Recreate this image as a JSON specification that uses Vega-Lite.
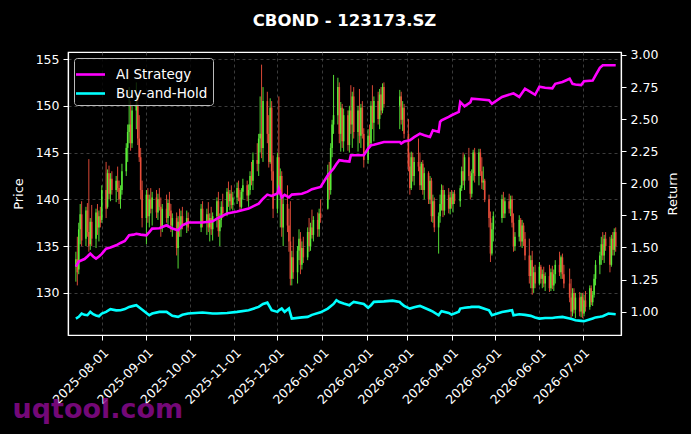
{
  "$schema": "https://vega.github.io/schema/vega-lite/v6.json",
  "autosize": {"type": "none"},
  "padding": {"left": 68, "top": 52, "right": 70, "bottom": 99},
  "width": 553,
  "height": 283,
  "background": "black",
  "title": {
    "text": "CBOND - 123173.SZ",
    "color": "white",
    "font": "DejaVu Sans",
    "fontSize": 16.5,
    "fontWeight": "bold",
    "anchor": "middle",
    "frame": "group",
    "offset": 19
  },
  "config": {
    "font": "DejaVu Sans",
    "view": {"stroke": "white", "strokeWidth": 1.2},
    "axis": {
      "domainColor": "white",
      "domainWidth": 1.2,
      "tickColor": "white",
      "tickSize": 5,
      "labelColor": "white",
      "labelFontSize": 12.5,
      "labelPadding": 4,
      "titleColor": "white",
      "titleFontSize": 13,
      "titleFontWeight": "normal",
      "gridColor": "#555555",
      "gridDash": [3, 3],
      "gridWidth": 0.7
    }
  },
  "datasets": {
    "px": [
      {"d": "2025-07-14", "o": 132.8, "h": 134.4, "l": 131.2, "c": 133.6},
      {"d": "2025-07-15", "o": 133.6, "h": 136.0, "l": 130.8, "c": 132.2},
      {"d": "2025-07-16", "o": 132.5, "h": 137.5, "l": 132.0, "c": 136.8},
      {"d": "2025-07-17", "o": 136.8, "h": 139.5, "l": 135.2, "c": 138.4},
      {"d": "2025-07-18", "o": 138.4, "h": 139.8, "l": 135.0, "c": 135.6},
      {"d": "2025-07-21", "o": 135.8, "h": 139.2, "l": 135.0, "c": 138.8},
      {"d": "2025-07-22", "o": 138.8, "h": 139.6, "l": 136.0, "c": 136.5},
      {"d": "2025-07-23", "o": 136.5, "h": 144.3, "l": 134.4, "c": 135.0},
      {"d": "2025-07-24", "o": 135.2, "h": 138.0, "l": 134.6, "c": 137.6},
      {"d": "2025-07-25", "o": 137.6, "h": 139.4, "l": 135.0, "c": 135.8},
      {"d": "2025-07-28", "o": 135.8, "h": 139.0, "l": 134.8, "c": 138.6},
      {"d": "2025-07-29", "o": 138.6, "h": 139.5, "l": 136.2, "c": 137.0},
      {"d": "2025-07-30", "o": 137.0, "h": 138.8, "l": 135.5, "c": 138.2},
      {"d": "2025-07-31", "o": 138.2, "h": 139.2, "l": 137.0, "c": 137.5},
      {"d": "2025-08-01", "o": 137.8, "h": 141.5, "l": 137.5, "c": 141.0},
      {"d": "2025-08-04", "o": 141.0, "h": 144.0, "l": 138.0, "c": 139.0},
      {"d": "2025-08-05", "o": 139.2, "h": 143.2, "l": 139.0, "c": 142.8},
      {"d": "2025-08-06", "o": 142.8, "h": 143.6, "l": 140.0, "c": 140.6},
      {"d": "2025-08-07", "o": 140.6, "h": 142.8, "l": 139.8, "c": 142.2},
      {"d": "2025-08-08", "o": 142.2, "h": 143.0, "l": 140.5, "c": 141.0},
      {"d": "2025-08-11", "o": 141.0, "h": 142.5, "l": 139.7, "c": 142.0},
      {"d": "2025-08-12", "o": 142.0, "h": 143.5, "l": 140.8, "c": 141.2},
      {"d": "2025-08-13", "o": 141.2, "h": 142.0, "l": 139.5, "c": 140.0},
      {"d": "2025-08-14", "o": 140.0, "h": 141.5, "l": 139.0, "c": 141.0},
      {"d": "2025-08-15", "o": 141.0, "h": 143.8, "l": 140.5, "c": 143.0},
      {"d": "2025-08-18", "o": 143.0, "h": 146.0, "l": 142.5, "c": 145.5},
      {"d": "2025-08-19", "o": 145.5, "h": 148.0, "l": 144.0, "c": 147.2},
      {"d": "2025-08-20", "o": 147.2, "h": 152.0, "l": 146.0, "c": 148.0},
      {"d": "2025-08-21", "o": 148.0, "h": 150.5, "l": 145.2, "c": 146.0},
      {"d": "2025-08-22", "o": 146.0, "h": 150.0, "l": 145.5, "c": 149.5},
      {"d": "2025-08-25", "o": 149.5, "h": 152.5, "l": 147.5, "c": 150.2},
      {"d": "2025-08-26", "o": 150.2, "h": 151.0, "l": 145.8, "c": 146.5},
      {"d": "2025-08-27", "o": 146.5, "h": 149.0, "l": 144.0, "c": 144.5},
      {"d": "2025-08-28", "o": 144.5, "h": 145.5, "l": 140.0, "c": 141.0},
      {"d": "2025-08-29", "o": 141.0, "h": 142.0, "l": 137.0, "c": 138.0},
      {"d": "2025-09-01", "o": 138.0, "h": 141.0, "l": 135.2, "c": 140.5},
      {"d": "2025-09-02", "o": 140.5, "h": 141.2, "l": 137.5, "c": 138.2},
      {"d": "2025-09-03", "o": 138.2, "h": 140.5, "l": 137.0, "c": 140.0},
      {"d": "2025-09-04", "o": 140.0, "h": 141.2, "l": 138.5, "c": 139.0},
      {"d": "2025-09-05", "o": 139.0, "h": 140.8, "l": 137.2, "c": 140.2},
      {"d": "2025-09-08", "o": 140.2, "h": 141.0, "l": 138.0, "c": 138.6},
      {"d": "2025-09-09", "o": 138.6, "h": 140.6, "l": 137.8, "c": 140.0},
      {"d": "2025-09-10", "o": 140.0, "h": 141.2, "l": 138.8, "c": 139.2},
      {"d": "2025-09-11", "o": 139.2, "h": 140.2, "l": 136.0, "c": 137.0},
      {"d": "2025-09-12", "o": 137.0, "h": 139.5, "l": 136.5, "c": 139.0},
      {"d": "2025-09-15", "o": 139.0, "h": 140.5, "l": 137.5, "c": 138.0},
      {"d": "2025-09-16", "o": 138.0, "h": 140.0, "l": 137.0, "c": 139.6},
      {"d": "2025-09-17", "o": 139.6, "h": 140.8, "l": 138.2, "c": 138.8},
      {"d": "2025-09-18", "o": 138.8, "h": 139.5, "l": 136.5, "c": 137.2},
      {"d": "2025-09-19", "o": 137.2, "h": 138.5, "l": 136.0, "c": 138.0},
      {"d": "2025-09-22", "o": 138.0, "h": 138.6, "l": 134.0, "c": 134.8},
      {"d": "2025-09-23", "o": 134.8, "h": 138.2, "l": 132.6, "c": 137.6},
      {"d": "2025-09-24", "o": 137.6, "h": 139.0, "l": 136.0, "c": 136.8},
      {"d": "2025-09-25", "o": 136.8, "h": 138.8, "l": 136.0, "c": 138.2},
      {"d": "2025-09-26", "o": 138.2, "h": 139.2, "l": 136.8, "c": 137.2},
      {"d": "2025-09-29", "o": 137.2, "h": 138.8, "l": 136.4, "c": 138.0},
      {"d": "2025-09-30", "o": 138.0, "h": 138.6, "l": 136.6, "c": 137.0},
      {"d": "2025-10-09", "o": 137.0, "h": 139.5, "l": 136.5, "c": 139.0},
      {"d": "2025-10-10", "o": 139.0, "h": 139.8, "l": 137.0, "c": 137.6},
      {"d": "2025-10-13", "o": 137.6, "h": 139.0, "l": 136.2, "c": 138.4},
      {"d": "2025-10-14", "o": 138.4, "h": 139.7, "l": 136.5, "c": 137.0},
      {"d": "2025-10-15", "o": 137.0, "h": 138.5, "l": 135.5, "c": 138.0},
      {"d": "2025-10-16", "o": 138.0, "h": 139.2, "l": 136.2, "c": 136.8},
      {"d": "2025-10-17", "o": 136.8, "h": 138.6, "l": 135.6, "c": 138.2},
      {"d": "2025-10-20", "o": 138.2, "h": 140.2, "l": 137.0, "c": 139.8},
      {"d": "2025-10-21", "o": 139.8, "h": 140.8, "l": 136.0, "c": 136.6},
      {"d": "2025-10-22", "o": 136.6, "h": 138.5, "l": 135.0, "c": 137.8},
      {"d": "2025-10-23", "o": 137.8, "h": 139.8, "l": 137.0, "c": 139.2},
      {"d": "2025-10-24", "o": 139.2, "h": 140.6, "l": 138.0, "c": 138.5},
      {"d": "2025-10-27", "o": 138.5, "h": 141.2, "l": 138.2, "c": 140.8},
      {"d": "2025-10-28", "o": 140.8, "h": 141.9, "l": 139.2, "c": 139.8},
      {"d": "2025-10-29", "o": 139.8, "h": 141.0, "l": 138.8, "c": 140.6},
      {"d": "2025-10-30", "o": 140.6, "h": 141.5, "l": 139.0, "c": 139.4},
      {"d": "2025-10-31", "o": 139.4, "h": 140.8, "l": 138.8, "c": 140.2},
      {"d": "2025-11-03", "o": 140.2, "h": 141.8, "l": 139.5, "c": 141.2},
      {"d": "2025-11-04", "o": 141.2, "h": 142.0, "l": 139.8, "c": 140.2},
      {"d": "2025-11-05", "o": 140.2, "h": 141.0, "l": 138.8, "c": 139.2},
      {"d": "2025-11-06", "o": 139.2, "h": 141.2, "l": 139.0, "c": 140.8},
      {"d": "2025-11-07", "o": 140.8, "h": 142.2, "l": 140.0, "c": 141.5},
      {"d": "2025-11-10", "o": 141.5, "h": 142.0, "l": 139.8, "c": 140.4},
      {"d": "2025-11-11", "o": 140.4, "h": 141.6, "l": 139.2, "c": 141.0},
      {"d": "2025-11-12", "o": 141.0, "h": 143.0, "l": 140.5, "c": 142.5},
      {"d": "2025-11-13", "o": 142.5, "h": 144.0, "l": 141.5, "c": 142.0},
      {"d": "2025-11-14", "o": 142.0, "h": 145.0, "l": 141.0, "c": 144.2},
      {"d": "2025-11-17", "o": 144.2, "h": 146.0, "l": 143.0, "c": 143.8},
      {"d": "2025-11-18", "o": 143.8, "h": 147.0, "l": 142.5, "c": 146.5},
      {"d": "2025-11-19", "o": 146.5, "h": 151.0, "l": 145.0, "c": 147.0},
      {"d": "2025-11-20", "o": 147.0, "h": 154.4, "l": 144.4, "c": 145.5},
      {"d": "2025-11-21", "o": 145.5, "h": 152.0, "l": 144.0, "c": 150.5},
      {"d": "2025-11-24", "o": 150.5, "h": 151.5, "l": 146.0, "c": 147.0},
      {"d": "2025-11-25", "o": 147.0, "h": 149.0, "l": 143.4, "c": 144.0},
      {"d": "2025-11-26", "o": 144.0, "h": 150.8, "l": 143.8, "c": 149.8},
      {"d": "2025-11-27", "o": 149.8, "h": 150.5, "l": 142.0, "c": 143.0},
      {"d": "2025-11-28", "o": 143.0, "h": 144.7, "l": 138.0, "c": 139.0},
      {"d": "2025-12-01", "o": 139.0, "h": 145.0, "l": 138.5, "c": 144.5},
      {"d": "2025-12-02", "o": 144.5, "h": 151.0, "l": 140.5, "c": 141.0},
      {"d": "2025-12-03", "o": 141.0, "h": 143.3, "l": 137.0, "c": 142.5},
      {"d": "2025-12-04", "o": 142.5, "h": 143.0, "l": 136.0, "c": 137.0},
      {"d": "2025-12-05", "o": 137.0, "h": 140.5, "l": 135.0, "c": 139.5},
      {"d": "2025-12-08", "o": 139.5, "h": 141.5, "l": 136.5, "c": 137.2},
      {"d": "2025-12-09", "o": 137.2, "h": 139.0, "l": 134.4, "c": 135.5},
      {"d": "2025-12-10", "o": 135.5, "h": 139.8, "l": 130.8, "c": 131.5},
      {"d": "2025-12-11", "o": 131.5, "h": 134.5, "l": 130.8, "c": 133.8},
      {"d": "2025-12-12", "o": 133.8, "h": 136.0, "l": 131.5, "c": 132.2},
      {"d": "2025-12-15", "o": 132.2, "h": 135.0, "l": 131.0, "c": 134.5},
      {"d": "2025-12-16", "o": 134.5, "h": 136.8, "l": 133.5, "c": 135.8},
      {"d": "2025-12-17", "o": 135.8, "h": 136.5, "l": 132.0, "c": 133.0},
      {"d": "2025-12-18", "o": 133.0, "h": 135.5, "l": 132.5, "c": 134.8},
      {"d": "2025-12-19", "o": 134.8, "h": 136.0, "l": 133.2, "c": 133.8},
      {"d": "2025-12-22", "o": 133.8, "h": 137.0, "l": 133.5, "c": 136.5},
      {"d": "2025-12-23", "o": 136.5, "h": 138.0, "l": 134.4, "c": 135.0},
      {"d": "2025-12-24", "o": 135.0, "h": 137.5, "l": 134.5, "c": 137.0},
      {"d": "2025-12-25", "o": 137.0, "h": 138.9, "l": 135.8, "c": 136.2},
      {"d": "2025-12-26", "o": 136.2, "h": 138.2, "l": 135.5, "c": 137.8},
      {"d": "2025-12-29", "o": 137.8, "h": 138.6, "l": 136.0, "c": 136.8},
      {"d": "2025-12-30", "o": 136.8, "h": 139.0, "l": 136.0, "c": 138.5},
      {"d": "2025-12-31", "o": 138.5, "h": 140.0, "l": 137.5, "c": 138.0},
      {"d": "2026-01-05", "o": 139.0, "h": 143.7, "l": 138.9, "c": 142.8},
      {"d": "2026-01-06", "o": 142.8, "h": 144.0, "l": 140.0, "c": 141.0},
      {"d": "2026-01-07", "o": 141.0, "h": 146.0, "l": 140.5, "c": 145.5},
      {"d": "2026-01-08", "o": 145.5, "h": 148.5, "l": 144.5, "c": 148.0},
      {"d": "2026-01-09", "o": 148.0, "h": 153.3, "l": 147.0, "c": 149.0},
      {"d": "2026-01-12", "o": 149.0, "h": 153.0, "l": 148.0, "c": 152.0},
      {"d": "2026-01-13", "o": 152.0, "h": 152.5, "l": 146.0, "c": 147.0},
      {"d": "2026-01-14", "o": 147.0, "h": 150.4, "l": 145.1, "c": 149.8},
      {"d": "2026-01-15", "o": 149.8, "h": 150.2, "l": 145.5, "c": 146.2},
      {"d": "2026-01-16", "o": 146.2, "h": 149.7, "l": 145.1, "c": 149.0},
      {"d": "2026-01-19", "o": 149.0, "h": 149.5, "l": 145.2, "c": 145.8},
      {"d": "2026-01-20", "o": 145.8, "h": 150.0, "l": 145.0, "c": 149.5},
      {"d": "2026-01-21", "o": 149.5, "h": 152.2, "l": 147.0, "c": 148.0},
      {"d": "2026-01-22", "o": 148.0, "h": 151.5, "l": 145.5, "c": 151.0},
      {"d": "2026-01-23", "o": 151.0, "h": 152.0, "l": 146.5, "c": 147.2},
      {"d": "2026-01-26", "o": 147.2, "h": 150.0, "l": 145.1, "c": 149.5},
      {"d": "2026-01-27", "o": 149.5, "h": 151.8, "l": 146.0, "c": 146.8},
      {"d": "2026-01-28", "o": 146.8, "h": 150.2, "l": 145.5, "c": 149.8},
      {"d": "2026-01-29", "o": 149.8, "h": 150.5, "l": 146.5, "c": 147.0},
      {"d": "2026-01-30", "o": 147.0, "h": 147.6, "l": 143.4, "c": 144.2},
      {"d": "2026-02-02", "o": 144.2, "h": 147.5, "l": 143.8, "c": 146.8},
      {"d": "2026-02-03", "o": 146.8, "h": 148.0, "l": 145.5, "c": 146.0},
      {"d": "2026-02-04", "o": 146.0, "h": 150.5, "l": 145.8, "c": 150.0},
      {"d": "2026-02-05", "o": 150.0, "h": 152.2, "l": 147.5, "c": 148.2},
      {"d": "2026-02-06", "o": 148.2, "h": 151.0, "l": 146.2, "c": 150.5},
      {"d": "2026-02-09", "o": 150.5, "h": 151.5, "l": 148.0, "c": 148.6},
      {"d": "2026-02-10", "o": 148.6, "h": 151.8, "l": 147.5, "c": 151.2},
      {"d": "2026-02-11", "o": 151.2, "h": 152.0, "l": 149.0, "c": 149.5},
      {"d": "2026-02-12", "o": 149.5, "h": 152.4, "l": 149.2, "c": 152.0},
      {"d": "2026-02-13", "o": 152.0, "h": 152.5, "l": 149.8, "c": 150.2},
      {"d": "2026-02-24", "o": 150.0, "h": 151.7, "l": 147.5, "c": 151.0},
      {"d": "2026-02-25", "o": 151.0, "h": 151.5, "l": 148.0, "c": 148.5},
      {"d": "2026-02-26", "o": 148.5, "h": 150.5, "l": 147.3, "c": 149.8},
      {"d": "2026-02-27", "o": 149.8, "h": 150.2, "l": 146.5, "c": 147.0},
      {"d": "2026-03-02", "o": 147.0, "h": 148.6, "l": 143.0, "c": 143.5},
      {"d": "2026-03-03", "o": 143.5, "h": 145.0, "l": 140.5, "c": 141.2},
      {"d": "2026-03-04", "o": 141.2, "h": 145.1, "l": 141.0, "c": 144.5},
      {"d": "2026-03-05", "o": 144.5, "h": 145.0, "l": 141.9, "c": 142.5},
      {"d": "2026-03-06", "o": 142.5, "h": 144.5, "l": 141.5, "c": 144.0},
      {"d": "2026-03-09", "o": 144.0, "h": 146.5, "l": 143.0, "c": 143.5},
      {"d": "2026-03-10", "o": 143.5, "h": 145.0, "l": 141.0, "c": 141.5},
      {"d": "2026-03-11", "o": 141.5, "h": 144.0, "l": 141.0, "c": 143.8},
      {"d": "2026-03-12", "o": 143.8, "h": 144.2, "l": 140.5, "c": 141.0},
      {"d": "2026-03-13", "o": 141.0, "h": 143.4, "l": 140.0, "c": 142.8},
      {"d": "2026-03-16", "o": 142.8, "h": 143.0, "l": 139.5, "c": 140.0},
      {"d": "2026-03-17", "o": 140.0, "h": 142.5, "l": 139.5, "c": 142.0},
      {"d": "2026-03-18", "o": 142.0, "h": 142.3, "l": 137.6, "c": 138.2},
      {"d": "2026-03-19", "o": 138.2, "h": 140.5, "l": 137.5, "c": 139.8},
      {"d": "2026-03-20", "o": 139.8, "h": 140.2, "l": 136.5, "c": 137.0},
      {"d": "2026-03-23", "o": 137.0, "h": 138.6, "l": 134.2, "c": 138.2},
      {"d": "2026-03-24", "o": 138.2, "h": 140.5, "l": 137.5, "c": 139.5},
      {"d": "2026-03-25", "o": 139.5, "h": 141.6, "l": 138.8, "c": 141.0},
      {"d": "2026-03-26", "o": 141.0, "h": 141.5, "l": 138.1, "c": 138.8},
      {"d": "2026-03-27", "o": 138.8, "h": 141.0, "l": 138.3, "c": 140.5},
      {"d": "2026-03-30", "o": 140.5, "h": 141.2, "l": 138.5, "c": 139.0},
      {"d": "2026-03-31", "o": 139.0, "h": 140.8, "l": 138.4, "c": 140.2},
      {"d": "2026-04-01", "o": 140.2, "h": 141.0, "l": 139.0, "c": 139.5},
      {"d": "2026-04-02", "o": 139.5, "h": 140.8, "l": 138.6, "c": 140.6},
      {"d": "2026-04-03", "o": 140.6, "h": 141.0, "l": 139.5, "c": 139.8},
      {"d": "2026-04-07", "o": 139.8, "h": 141.5, "l": 139.2, "c": 141.2},
      {"d": "2026-04-08", "o": 141.2, "h": 143.5, "l": 140.9, "c": 143.0},
      {"d": "2026-04-09", "o": 143.0, "h": 145.0, "l": 141.5, "c": 142.0},
      {"d": "2026-04-10", "o": 142.0, "h": 144.8, "l": 141.0, "c": 144.5},
      {"d": "2026-04-13", "o": 144.5, "h": 145.5, "l": 142.0, "c": 142.5},
      {"d": "2026-04-14", "o": 142.5, "h": 143.0, "l": 140.0, "c": 140.6},
      {"d": "2026-04-15", "o": 140.6, "h": 143.2, "l": 140.2, "c": 142.8},
      {"d": "2026-04-16", "o": 142.8, "h": 145.3, "l": 142.0, "c": 145.0},
      {"d": "2026-04-17", "o": 145.0, "h": 145.5, "l": 141.8, "c": 142.5},
      {"d": "2026-04-20", "o": 142.5, "h": 145.4, "l": 141.5, "c": 145.0},
      {"d": "2026-04-21", "o": 145.0, "h": 145.4, "l": 142.5, "c": 143.0},
      {"d": "2026-04-22", "o": 143.0, "h": 144.5, "l": 141.1, "c": 141.8},
      {"d": "2026-04-23", "o": 141.8, "h": 143.5, "l": 141.0, "c": 142.0},
      {"d": "2026-04-24", "o": 142.0, "h": 142.2, "l": 139.7, "c": 140.0},
      {"d": "2026-04-27", "o": 140.0, "h": 140.5, "l": 137.0, "c": 138.0},
      {"d": "2026-04-28", "o": 138.0, "h": 138.7, "l": 133.3, "c": 134.2},
      {"d": "2026-04-29", "o": 134.2, "h": 137.5, "l": 134.0, "c": 136.8},
      {"d": "2026-04-30", "o": 136.8, "h": 138.7, "l": 135.5, "c": 138.2},
      {"d": "2026-05-06", "o": 138.0, "h": 140.5, "l": 137.5, "c": 140.0},
      {"d": "2026-05-07", "o": 140.0, "h": 140.8, "l": 138.0, "c": 138.5},
      {"d": "2026-05-08", "o": 138.5, "h": 140.2, "l": 138.0, "c": 139.8},
      {"d": "2026-05-11", "o": 139.8, "h": 140.6, "l": 138.5, "c": 139.0},
      {"d": "2026-05-12", "o": 139.0, "h": 140.4, "l": 138.2, "c": 140.0},
      {"d": "2026-05-13", "o": 140.0, "h": 140.4, "l": 137.0, "c": 137.5},
      {"d": "2026-05-14", "o": 137.5, "h": 138.5, "l": 134.4, "c": 135.0},
      {"d": "2026-05-15", "o": 135.0, "h": 136.5, "l": 134.5, "c": 136.0},
      {"d": "2026-05-18", "o": 136.0, "h": 138.3, "l": 135.5, "c": 137.8},
      {"d": "2026-05-19", "o": 137.8, "h": 138.0, "l": 135.0, "c": 135.5},
      {"d": "2026-05-20", "o": 135.5, "h": 137.8, "l": 134.8, "c": 137.2},
      {"d": "2026-05-21", "o": 137.2, "h": 137.5, "l": 135.0, "c": 135.8},
      {"d": "2026-05-22", "o": 135.8, "h": 136.5, "l": 133.5, "c": 134.0},
      {"d": "2026-05-25", "o": 134.0, "h": 135.8, "l": 131.0, "c": 131.8},
      {"d": "2026-05-26", "o": 131.8, "h": 134.0, "l": 130.5, "c": 133.5},
      {"d": "2026-05-27", "o": 133.5, "h": 134.5, "l": 129.8, "c": 130.5},
      {"d": "2026-05-28", "o": 130.5, "h": 132.8, "l": 130.0, "c": 132.2},
      {"d": "2026-05-29", "o": 132.2, "h": 133.0, "l": 130.5, "c": 131.0},
      {"d": "2026-06-01", "o": 131.0, "h": 133.3, "l": 130.8, "c": 132.8},
      {"d": "2026-06-02", "o": 132.8, "h": 133.0, "l": 131.0, "c": 131.5},
      {"d": "2026-06-03", "o": 131.5, "h": 132.5, "l": 130.5, "c": 132.0},
      {"d": "2026-06-04", "o": 132.0, "h": 132.8, "l": 130.6, "c": 131.0},
      {"d": "2026-06-05", "o": 131.0, "h": 132.2, "l": 130.2, "c": 131.8},
      {"d": "2026-06-08", "o": 131.8, "h": 133.0, "l": 130.1, "c": 130.5},
      {"d": "2026-06-09", "o": 130.5, "h": 132.6, "l": 130.2, "c": 132.2},
      {"d": "2026-06-10", "o": 132.2, "h": 132.9, "l": 130.4, "c": 130.8},
      {"d": "2026-06-11", "o": 130.8, "h": 132.5, "l": 130.2, "c": 132.0},
      {"d": "2026-06-12", "o": 132.0, "h": 133.5, "l": 131.0, "c": 133.0},
      {"d": "2026-06-15", "o": 133.0, "h": 134.4, "l": 131.8, "c": 132.2},
      {"d": "2026-06-16", "o": 132.2, "h": 134.0, "l": 131.5, "c": 133.8},
      {"d": "2026-06-17", "o": 133.8, "h": 134.2, "l": 131.5, "c": 132.0},
      {"d": "2026-06-18", "o": 132.0, "h": 133.0, "l": 130.5, "c": 131.0},
      {"d": "2026-06-22", "o": 131.0, "h": 132.6, "l": 129.0, "c": 129.5},
      {"d": "2026-06-23", "o": 129.5, "h": 131.5, "l": 127.3, "c": 128.0},
      {"d": "2026-06-24", "o": 128.0, "h": 130.5, "l": 127.5, "c": 130.0},
      {"d": "2026-06-25", "o": 130.0, "h": 130.5, "l": 127.8, "c": 128.2},
      {"d": "2026-06-26", "o": 128.2, "h": 130.0, "l": 127.3, "c": 129.5},
      {"d": "2026-06-29", "o": 129.5, "h": 130.1, "l": 127.5, "c": 128.0},
      {"d": "2026-06-30", "o": 128.0, "h": 130.0, "l": 127.4, "c": 129.6},
      {"d": "2026-07-01", "o": 129.6, "h": 130.0, "l": 127.3, "c": 127.8},
      {"d": "2026-07-02", "o": 127.8, "h": 129.8, "l": 127.5, "c": 129.2},
      {"d": "2026-07-03", "o": 129.2, "h": 130.2, "l": 128.0, "c": 128.5},
      {"d": "2026-07-06", "o": 128.5, "h": 130.8, "l": 128.2, "c": 130.5},
      {"d": "2026-07-07", "o": 130.5, "h": 130.8, "l": 128.7, "c": 129.0},
      {"d": "2026-07-08", "o": 129.0, "h": 130.2, "l": 128.6, "c": 129.8},
      {"d": "2026-07-09", "o": 129.8, "h": 132.0, "l": 129.5, "c": 131.5},
      {"d": "2026-07-10", "o": 131.5, "h": 133.5, "l": 130.8, "c": 133.0},
      {"d": "2026-07-13", "o": 133.0, "h": 134.4, "l": 132.0, "c": 134.0},
      {"d": "2026-07-14", "o": 134.0, "h": 136.0, "l": 133.0, "c": 135.2},
      {"d": "2026-07-15", "o": 135.2, "h": 136.5, "l": 133.5, "c": 134.0},
      {"d": "2026-07-16", "o": 134.0, "h": 136.2, "l": 133.2, "c": 135.8},
      {"d": "2026-07-17", "o": 135.8, "h": 136.5, "l": 134.5, "c": 135.0},
      {"d": "2026-07-20", "o": 135.0, "h": 136.0, "l": 132.2, "c": 133.0},
      {"d": "2026-07-21", "o": 133.0, "h": 136.2, "l": 132.8, "c": 135.8},
      {"d": "2026-07-22", "o": 135.8, "h": 136.5, "l": 134.0, "c": 134.6},
      {"d": "2026-07-23", "o": 134.6, "h": 136.9, "l": 134.0, "c": 136.5},
      {"d": "2026-07-24", "o": 136.5, "h": 137.0, "l": 134.4, "c": 135.0}
    ],
    "ret": [
      {"d": "2025-07-14", "ai": 1.35, "bh": 0.946},
      {"d": "2025-07-16", "ai": 1.39, "bh": 0.96},
      {"d": "2025-07-18", "ai": 1.4, "bh": 0.985},
      {"d": "2025-07-20", "ai": 1.41, "bh": 0.975},
      {"d": "2025-07-22", "ai": 1.43, "bh": 0.972},
      {"d": "2025-07-24", "ai": 1.452, "bh": 0.998},
      {"d": "2025-07-26", "ai": 1.43, "bh": 0.98},
      {"d": "2025-07-28", "ai": 1.413, "bh": 0.97},
      {"d": "2025-07-30", "ai": 1.43, "bh": 0.964},
      {"d": "2025-08-01", "ai": 1.45, "bh": 0.985},
      {"d": "2025-08-04", "ai": 1.49, "bh": 0.998},
      {"d": "2025-08-07", "ai": 1.5, "bh": 1.019},
      {"d": "2025-08-11", "ai": 1.517, "bh": 1.01},
      {"d": "2025-08-14", "ai": 1.535, "bh": 1.011},
      {"d": "2025-08-17", "ai": 1.55, "bh": 1.02},
      {"d": "2025-08-20", "ai": 1.595, "bh": 1.037},
      {"d": "2025-08-23", "ai": 1.6, "bh": 1.045},
      {"d": "2025-08-25", "ai": 1.607, "bh": 1.05},
      {"d": "2025-08-28", "ai": 1.6, "bh": 1.024},
      {"d": "2025-09-01", "ai": 1.595, "bh": 0.99},
      {"d": "2025-09-03", "ai": 1.62, "bh": 0.972},
      {"d": "2025-09-05", "ai": 1.647, "bh": 0.985},
      {"d": "2025-09-10", "ai": 1.65, "bh": 0.998},
      {"d": "2025-09-15", "ai": 1.673, "bh": 0.998},
      {"d": "2025-09-19", "ai": 1.647, "bh": 0.967},
      {"d": "2025-09-23", "ai": 1.634, "bh": 0.959},
      {"d": "2025-09-26", "ai": 1.673, "bh": 0.975},
      {"d": "2025-09-30", "ai": 1.694, "bh": 0.985},
      {"d": "2025-10-10", "ai": 1.694, "bh": 0.993},
      {"d": "2025-10-17", "ai": 1.704, "bh": 0.985},
      {"d": "2025-10-20", "ai": 1.725, "bh": 0.985},
      {"d": "2025-10-27", "ai": 1.764, "bh": 0.99},
      {"d": "2025-11-03", "ai": 1.781, "bh": 0.998},
      {"d": "2025-11-11", "ai": 1.803, "bh": 1.011},
      {"d": "2025-11-18", "ai": 1.842, "bh": 1.037},
      {"d": "2025-11-21", "ai": 1.88, "bh": 1.06},
      {"d": "2025-11-24", "ai": 1.912, "bh": 1.07},
      {"d": "2025-11-27", "ai": 1.902, "bh": 1.011},
      {"d": "2025-12-01", "ai": 1.92, "bh": 0.998},
      {"d": "2025-12-02", "ai": 1.958, "bh": 1.01},
      {"d": "2025-12-04", "ai": 1.89, "bh": 1.024},
      {"d": "2025-12-06", "ai": 1.91, "bh": 0.998},
      {"d": "2025-12-09", "ai": 1.89, "bh": 1.024},
      {"d": "2025-12-11", "ai": 1.912, "bh": 0.946},
      {"d": "2025-12-18", "ai": 1.919, "bh": 0.955},
      {"d": "2025-12-22", "ai": 1.935, "bh": 0.959},
      {"d": "2025-12-25", "ai": 1.954, "bh": 0.975},
      {"d": "2025-12-31", "ai": 1.972, "bh": 0.995},
      {"d": "2026-01-05", "ai": 2.063, "bh": 1.024},
      {"d": "2026-01-09", "ai": 2.115, "bh": 1.06},
      {"d": "2026-01-11", "ai": 2.15, "bh": 1.089},
      {"d": "2026-01-13", "ai": 2.18, "bh": 1.075},
      {"d": "2026-01-16", "ai": 2.175, "bh": 1.063},
      {"d": "2026-01-20", "ai": 2.17, "bh": 1.05},
      {"d": "2026-01-21", "ai": 2.218, "bh": 1.06},
      {"d": "2026-01-23", "ai": 2.218, "bh": 1.076},
      {"d": "2026-01-30", "ai": 2.218, "bh": 1.06},
      {"d": "2026-02-02", "ai": 2.27, "bh": 1.03},
      {"d": "2026-02-04", "ai": 2.296, "bh": 1.05},
      {"d": "2026-02-06", "ai": 2.3, "bh": 1.076},
      {"d": "2026-02-13", "ai": 2.322, "bh": 1.08},
      {"d": "2026-02-19", "ai": 2.322, "bh": 1.086},
      {"d": "2026-02-24", "ai": 2.322, "bh": 1.075},
      {"d": "2026-02-25", "ai": 2.31, "bh": 1.063},
      {"d": "2026-02-27", "ai": 2.325, "bh": 1.045},
      {"d": "2026-03-03", "ai": 2.335, "bh": 1.024},
      {"d": "2026-03-06", "ai": 2.36, "bh": 1.035},
      {"d": "2026-03-10", "ai": 2.387, "bh": 1.045},
      {"d": "2026-03-13", "ai": 2.375, "bh": 1.03},
      {"d": "2026-03-17", "ai": 2.361, "bh": 1.011},
      {"d": "2026-03-19", "ai": 2.413, "bh": 1.0},
      {"d": "2026-03-23", "ai": 2.4, "bh": 0.972},
      {"d": "2026-03-24", "ai": 2.478, "bh": 0.99},
      {"d": "2026-03-25", "ai": 2.49, "bh": 1.003},
      {"d": "2026-03-30", "ai": 2.517, "bh": 0.99},
      {"d": "2026-04-01", "ai": 2.53, "bh": 0.977},
      {"d": "2026-04-06", "ai": 2.556, "bh": 1.0},
      {"d": "2026-04-07", "ai": 2.634, "bh": 1.024},
      {"d": "2026-04-10", "ai": 2.6, "bh": 1.03},
      {"d": "2026-04-14", "ai": 2.63, "bh": 1.035},
      {"d": "2026-04-15", "ai": 2.66, "bh": 1.037},
      {"d": "2026-04-20", "ai": 2.655, "bh": 1.037},
      {"d": "2026-04-27", "ai": 2.647, "bh": 1.011},
      {"d": "2026-04-29", "ai": 2.62, "bh": 0.972},
      {"d": "2026-05-06", "ai": 2.673, "bh": 0.998},
      {"d": "2026-05-13", "ai": 2.698, "bh": 1.011},
      {"d": "2026-05-14", "ai": 2.7, "bh": 0.972},
      {"d": "2026-05-18", "ai": 2.673, "bh": 0.98},
      {"d": "2026-05-22", "ai": 2.737, "bh": 0.975},
      {"d": "2026-05-26", "ai": 2.711, "bh": 0.967},
      {"d": "2026-05-29", "ai": 2.69, "bh": 0.955},
      {"d": "2026-06-01", "ai": 2.753, "bh": 0.946},
      {"d": "2026-06-05", "ai": 2.745, "bh": 0.95},
      {"d": "2026-06-10", "ai": 2.74, "bh": 0.951},
      {"d": "2026-06-12", "ai": 2.775, "bh": 0.955},
      {"d": "2026-06-17", "ai": 2.79, "bh": 0.959},
      {"d": "2026-06-22", "ai": 2.815, "bh": 0.946},
      {"d": "2026-06-24", "ai": 2.775, "bh": 0.94},
      {"d": "2026-06-26", "ai": 2.77, "bh": 0.933},
      {"d": "2026-06-30", "ai": 2.765, "bh": 0.928},
      {"d": "2026-07-02", "ai": 2.795, "bh": 0.925},
      {"d": "2026-07-08", "ai": 2.8, "bh": 0.946},
      {"d": "2026-07-10", "ai": 2.84, "bh": 0.955},
      {"d": "2026-07-13", "ai": 2.9, "bh": 0.96},
      {"d": "2026-07-15", "ai": 2.92, "bh": 0.964},
      {"d": "2026-07-19", "ai": 2.92, "bh": 0.985},
      {"d": "2026-07-24", "ai": 2.92, "bh": 0.98}
    ]
  },
  "layer": [
    {
      "data": {"name": "px"},
      "encoding": {
        "x": {
          "field": "d",
          "type": "temporal",
          "scale": {"domain": [{"year": 2025, "month": 7, "date": 12}, {"year": 2026, "month": 7, "date": 24, "hours": 5}]},
          "axis": {
            "values": [
              {"year": 2025, "month": 8, "date": 1}, {"year": 2025, "month": 9, "date": 1},
              {"year": 2025, "month": 10, "date": 1}, {"year": 2025, "month": 11, "date": 1},
              {"year": 2025, "month": 12, "date": 1}, {"year": 2026, "month": 1, "date": 1},
              {"year": 2026, "month": 2, "date": 1}, {"year": 2026, "month": 3, "date": 1},
              {"year": 2026, "month": 4, "date": 1}, {"year": 2026, "month": 5, "date": 1},
              {"year": 2026, "month": 6, "date": 1}, {"year": 2026, "month": 7, "date": 1}
            ],
            "format": "%Y-%m-%d",
            "labelAngle": -45,
            "labelOverlap": false,
            "labelBound": false,
            "labelPadding": 6,
            "labelDx": -2,
            "grid": true,
            "title": "uqtool.com",
            "titleColor": "#8a0a8e",
            "titleOpacity": 0.85,
            "titleFontSize": 27,
            "titleFontWeight": "bold",
            "titleAnchor": "start",
            "titleAlign": "left",
            "titleBaseline": "alphabetic",
            "titleX": -56,
            "titleY": 82
          }
        },
        "color": {"condition": {"test": "datum.c >= datum.o", "value": "#5cf23a"}, "value": "#f0503c"},
        "opacity": {"value": 0.9}
      },
      "layer": [
        {
          "mark": {"type": "rule", "strokeWidth": 1, "clip": true},
          "encoding": {
            "y": {
              "field": "l",
              "type": "quantitative",
              "scale": {"domain": [125.5, 155.75], "nice": false, "zero": false},
              "axis": {"title": "Price", "values": [130, 135, 140, 145, 150, 155], "grid": true, "titlePadding": 10}
            },
            "y2": {"field": "h"}
          }
        },
        {
          "mark": {"type": "bar", "size": 1.6, "clip": true},
          "encoding": {
            "y": {
              "field": "o",
              "type": "quantitative",
              "scale": {"domain": [125.5, 155.75], "nice": false, "zero": false},
              "axis": {"title": "Price", "values": [130, 135, 140, 145, 150, 155], "grid": true, "titlePadding": 10}
            },
            "y2": {"field": "c"}
          }
        }
      ]
    },
    {
      "data": {"name": "ret"},
      "transform": [{"fold": ["ai", "bh"], "as": ["k", "v"]}],
      "mark": {"type": "line", "strokeWidth": 2.6, "clip": true},
      "encoding": {
        "x": {
          "field": "d",
          "type": "temporal",
          "scale": {"domain": [{"year": 2025, "month": 7, "date": 12}, {"year": 2026, "month": 7, "date": 24, "hours": 5}]},
          "axis": {
            "values": [
              {"year": 2025, "month": 8, "date": 1}, {"year": 2025, "month": 9, "date": 1},
              {"year": 2025, "month": 10, "date": 1}, {"year": 2025, "month": 11, "date": 1},
              {"year": 2025, "month": 12, "date": 1}, {"year": 2026, "month": 1, "date": 1},
              {"year": 2026, "month": 2, "date": 1}, {"year": 2026, "month": 3, "date": 1},
              {"year": 2026, "month": 4, "date": 1}, {"year": 2026, "month": 5, "date": 1},
              {"year": 2026, "month": 6, "date": 1}, {"year": 2026, "month": 7, "date": 1}
            ],
            "format": "%Y-%m-%d",
            "labelAngle": -45,
            "labelOverlap": false,
            "labelBound": false,
            "labelPadding": 6,
            "labelDx": -2,
            "grid": true,
            "title": "uqtool.com",
            "titleColor": "#8a0a8e",
            "titleOpacity": 0.85,
            "titleFontSize": 27,
            "titleFontWeight": "bold",
            "titleAnchor": "start",
            "titleAlign": "left",
            "titleBaseline": "alphabetic",
            "titleX": -56,
            "titleY": 82
          }
        },
        "y": {
          "field": "v",
          "type": "quantitative",
          "scale": {"domain": [0.818, 3.023], "nice": false, "zero": false},
          "axis": {"title": "Return", "orient": "right", "titleAngle": 270, "titleBaseline": "top", "values": [1, 1.25, 1.5, 1.75, 2, 2.25, 2.5, 2.75, 3], "format": ".2f", "grid": false, "titlePadding": 9}
        },
        "color": {
          "field": "k",
          "type": "nominal",
          "scale": {"domain": ["ai", "bh"], "range": ["#ff00ff", "#00ffff"]},
          "legend": {
            "title": null,
            "orient": "top-left",
            "offset": 6,
            "labelExpr": "datum.value == 'ai' ? 'AI Strategy' : 'Buy-and-Hold'",
            "fillColor": "rgba(0,0,0,0.8)",
            "strokeColor": "#bbbbbb",
            "cornerRadius": 3,
            "padding": 5,
            "symbolType": "M-1.45,0L1.45,0",
            "symbolStrokeWidth": 2.6,
            "symbolSize": 400,
            "labelColor": "white",
            "labelFontSize": 13.5,
            "labelOffset": 14,
            "rowPadding": 1
          }
        }
      }
    }
  ],
  "resolve": {"scale": {"y": "independent"}}
}
